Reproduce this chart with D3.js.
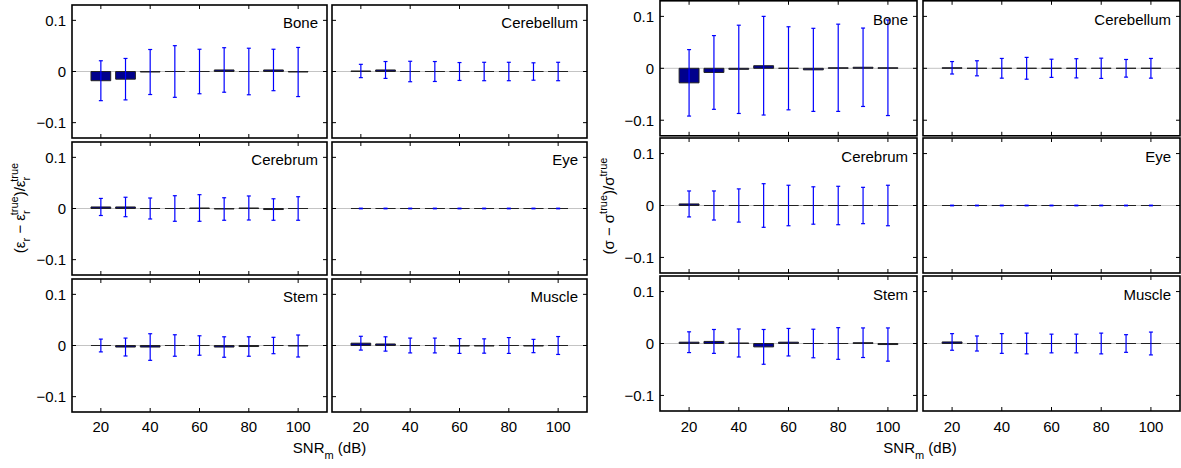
<!DOCTYPE html>
<html lang="en">
<meta charset="UTF-8">
<title>Relative error vs SNR</title>
<script src="https://d3js.org/d3.v7.min.js"></script>
<style>
  body { margin: 0; background: #fff; }
  text { font-family: "Liberation Sans", Arial, Helvetica, sans-serif; fill: #000; }
</style>
<body>
<svg width="1181" height="468"></svg>
<script>
// data
var snr = [20, 30, 40, 50, 60, 70, 80, 90, 100];
var tissues = ["Bone", "Cerebellum", "Cerebrum", "Eye", "Stem", "Muscle"];
var xTicks = [20, 40, 60, 80, 100];
var yTicks = [-0.1, 0, 0.1];
var yTickLabels = ["\u22120.1", "0", "0.1"];

// permittivity: mean relative error and error bar half-width
var epsMean = [
  [-0.018, -0.015, -0.001, 0, 0, 0.003, 0, 0.003, -0.001],
  [0.001, 0.003, 0, 0, 0, 0, 0, 0, 0],
  [0.003, 0.003, 0, 0, 0.001, -0.001, 0.001, -0.002, 0],
  [0, 0, 0, 0, 0, 0, 0, 0, 0],
  [0, -0.003, -0.003, 0, 0, -0.003, -0.002, 0, -0.001],
  [0.0045, 0.003, 0, 0, -0.001, -0.001, 0, -0.001, 0]
];
var epsErr = [
  [0.039, 0.0405, 0.044, 0.0505, 0.0435, 0.0435, 0.0455, 0.0405, 0.048],
  [0.013, 0.0165, 0.02, 0.0195, 0.0175, 0.018, 0.018, 0.017, 0.018],
  [0.0167, 0.019, 0.0205, 0.025, 0.026, 0.022, 0.0235, 0.021, 0.023],
  [0.0006, 0.0006, 0.0006, 0.0006, 0.0006, 0.0006, 0.0006, 0.0006, 0.0006],
  [0.0125, 0.0175, 0.026, 0.021, 0.019, 0.02, 0.019, 0.016, 0.0215],
  [0.0135, 0.014, 0.0145, 0.0145, 0.0145, 0.014, 0.0155, 0.013, 0.0175]
];

// conductivity
var sigMean = [
  [-0.028, -0.008, -0.002, 0.005, 0, -0.003, 0.001, 0.002, 0.001],
  [0.001, 0, 0, 0, 0, 0, 0, 0, 0],
  [0.003, 0, 0, 0, 0, 0, 0, 0, 0],
  [0, 0, 0, 0, 0, 0, 0, 0, 0],
  [0.0025, 0.004, 0.001, -0.0065, 0.0025, 0, 0, 0.0015, -0.002],
  [0.003, 0, 0, 0, 0, 0, 0, 0, 0]
];
var sigErr = [
  [0.064, 0.071, 0.085, 0.095, 0.08, 0.08, 0.084, 0.0755, 0.092],
  [0.012, 0.0145, 0.019, 0.021, 0.0175, 0.0185, 0.0195, 0.017, 0.019],
  [0.025, 0.028, 0.032, 0.042, 0.039, 0.036, 0.037, 0.035, 0.039],
  [0.0006, 0.0006, 0.0006, 0.0006, 0.0006, 0.0006, 0.0006, 0.0006, 0.0006],
  [0.02, 0.023, 0.027, 0.0335, 0.0265, 0.0275, 0.0305, 0.0285, 0.032],
  [0.016, 0.0145, 0.019, 0.02, 0.018, 0.018, 0.02, 0.017, 0.022]
];

var svg = d3.select("svg");
var fs = "15px";

// one group of 3x2 panels
function drawGroup(opt) {
  var g = svg.append("g");
  tissues.forEach(function(name, k) {
    var row = Math.floor(k / 2), col = k % 2;
    var x0 = opt.cols[col], y0 = opt.rows[row];
    var w = opt.w, h = opt.h;
    var xs = d3.scaleLinear().domain([8.3, 111.7]).range([x0, x0 + w]);
    var ys = d3.scaleLinear().domain([-0.13, 0.13]).range([y0 + h, y0]);
    var p = g.append("g");

    // zero line
    p.append("line")
      .attr("x1", x0).attr("x2", x0 + w)
      .attr("y1", ys(0)).attr("y2", ys(0))
      .attr("stroke", "#c4c4c4").attr("stroke-width", 1);

    var means = opt.mean[k], errs = opt.err[k];

    // bars (paths so that zero-height bars still show their edge)
    p.selectAll("path.bar")
      .data(snr)
      .enter()
      .append("path")
        .attr("class", "bar")
        .attr("d", function(d, i) {
          var a = xs(d - 4), b = xs(d + 4), y1 = ys(0), y2 = ys(means[i]);
          return "M" + a + "," + y1 + "H" + b + "V" + y2 + "H" + a + "Z";
        })
        .attr("fill", "#00008c")
        .attr("stroke", "#222")
        .attr("stroke-width", 1);

    // error bars
    var eb = p.selectAll("g.eb")
      .data(snr)
      .enter()
      .append("g")
        .attr("class", "eb")
        .attr("stroke", "#0000ff")
        .attr("stroke-width", 1.2);
    eb.append("line")
      .attr("x1", function(d) { return xs(d); })
      .attr("x2", function(d) { return xs(d); })
      .attr("y1", function(d, i) { return ys(means[i] - errs[i]); })
      .attr("y2", function(d, i) { return ys(means[i] + errs[i]); });
    [-1, 1].forEach(function(sgn) {
      eb.append("line")
        .attr("x1", function(d) { return xs(d) - 2; })
        .attr("x2", function(d) { return xs(d) + 2; })
        .attr("y1", function(d, i) { return ys(means[i] + sgn * errs[i]); })
        .attr("y2", function(d, i) { return ys(means[i] + sgn * errs[i]); });
    });

    // inward ticks on all four sides
    var tl = 4;
    var ax = p.append("g").attr("stroke", "#000").attr("stroke-width", 1);
    xTicks.forEach(function(t) {
      ax.append("line").attr("x1", xs(t)).attr("x2", xs(t)).attr("y1", y0 + h).attr("y2", y0 + h - tl);
      ax.append("line").attr("x1", xs(t)).attr("x2", xs(t)).attr("y1", y0).attr("y2", y0 + tl);
    });
    yTicks.forEach(function(t) {
      ax.append("line").attr("x1", x0).attr("x2", x0 + tl).attr("y1", ys(t)).attr("y2", ys(t));
      ax.append("line").attr("x1", x0 + w).attr("x2", x0 + w - tl).attr("y1", ys(t)).attr("y2", ys(t));
    });

    // frame
    p.append("rect")
      .attr("x", x0).attr("y", y0).attr("width", w).attr("height", h)
      .attr("fill", "none").attr("stroke", "#000").attr("stroke-width", 1.6);

    // y tick labels on left column
    if (col === 0) {
      p.selectAll("text.yt")
        .data(yTicks)
        .enter()
        .append("text")
          .attr("x", x0 - 6)
          .attr("y", function(d) { return ys(d); })
          .attr("dy", "0.36em")
          .attr("text-anchor", "end")
          .style("font-size", fs)
          .text(function(d, i) { return yTickLabels[i]; });
    }
    // x tick labels on bottom row
    if (row === 2) {
      p.selectAll("text.xt")
        .data(xTicks)
        .enter()
        .append("text")
          .attr("x", function(d) { return xs(d); })
          .attr("y", 432)
          .attr("text-anchor", "middle")
          .style("font-size", fs)
          .text(function(d) { return d; });
    }

    // tissue name
    p.append("text")
      .attr("x", x0 + w - 9)
      .attr("y", y0 + opt.nameDy)
      .attr("text-anchor", "end")
      .style("font-size", fs)
      .text(name);
  });

  // x label
  var cx = (opt.cols[0] + opt.cols[1] + opt.w) / 2;
  var xl = g.append("text")
    .attr("x", cx).attr("y", 453)
    .attr("text-anchor", "middle")
    .style("font-size", fs);
  xl.append("tspan").text("SNR");
  xl.append("tspan").attr("dy", 6).style("font-size", "11px").text("m");
  xl.append("tspan").attr("dy", -6).text(" (dB)");

  // y label
  var yl = g.append("text")
    .attr("transform", "translate(" + opt.ylx + "," + opt.yly + ") rotate(-90)")
    .attr("text-anchor", "middle")
    .style("font-size", fs);
  opt.ylabel(yl);
}

function sub(t, s) { t.append("tspan").attr("dy", 5).style("font-size", "11px").text(s); }
function supOver(t, s, back) {
  t.append("tspan").attr("dy", -12).attr("dx", back).style("font-size", "11px").text(s);
}

drawGroup({
  cols: [72, 332], rows: [5, 142, 279], w: 255, h: 133,
  mean: epsMean, err: epsErr, nameDy: 23,
  ylx: 25, yly: 208,
  ylabel: function(t) {
    t.append("tspan").text("(\u03b5");
    sub(t, "r");
    t.append("tspan").attr("dy", -5).text(" \u2212 \u03b5");
    sub(t, "r");
    supOver(t, "true", -5);
    t.append("tspan").attr("dy", 7).text(")/\u03b5");
    sub(t, "r");
    supOver(t, "true", -5);
  }
});

drawGroup({
  cols: [660, 923], rows: [0.8, 138, 276], w: 257, h: 135,
  mean: sigMean, err: sigErr, nameDy: 24,
  ylx: 614, yly: 206,
  ylabel: function(t) {
    t.append("tspan").text("(\u03c3 \u2212 \u03c3");
    t.append("tspan").attr("dy", -7).style("font-size", "11px").text("true");
    t.append("tspan").attr("dy", 7).text(")/\u03c3");
    t.append("tspan").attr("dy", -7).style("font-size", "11px").text("true");
  }
});
</script>
</body>
</html>
